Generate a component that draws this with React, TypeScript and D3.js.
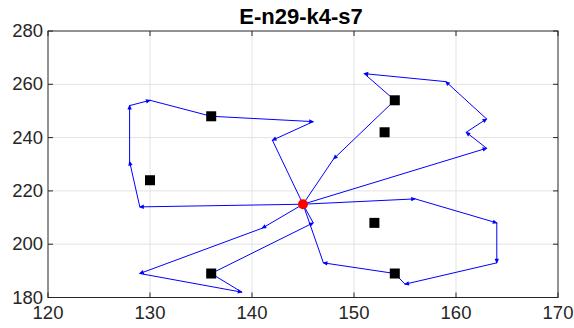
import { useEffect, useRef } from "react";
import * as d3 from "d3";

// depot, satellites and the four routes (customers in visiting order)
const depot: [number, number] = [145, 215];
const satX = [136, 130, 154, 153, 152, 136, 154];
const satY = [248, 224, 254, 242, 208, 189, 189];
const route1: [number, number][] = [[129, 214], [128, 231], [128, 252], [130, 254], [136, 248], [146, 246], [142, 239]];
const route2: [number, number][] = [[163, 236], [161, 242], [163, 247], [159, 261], [151, 264], [154, 254], [148, 232]];
const route3: [number, number][] = [[156, 217], [164, 208], [164, 193], [155, 185], [154, 189], [147, 193]];
const route4: [number, number][] = [[141, 206], [129, 189], [139, 182], [136, 189], [146, 208]];
const routes = [route1, route2, route3, route4];
const xTicks = [120, 130, 140, 150, 160, 170];
const yTicks = [180, 200, 220, 240, 260, 280];

const W = 574;
const H = 328;
const m = { left: 48, right: 16, top: 31, bottom: 30.5 };
const FONT = "'Liberation Sans', Arial, Helvetica, sans-serif";

export default function App() {
  const ref = useRef<SVGSVGElement>(null);

  useEffect(() => {
    const svg = d3.select(ref.current);
    svg.selectAll("*").remove();

    const x = d3.scaleLinear().domain([120, 170]).range([m.left, W - m.right]);
    const y = d3.scaleLinear().domain([180, 280]).range([H - m.bottom, m.top]);
    const [x0, x1] = x.range();
    const [y0, y1] = y.range();

    // grid
    const grid = svg.append("g").attr("stroke", "#e3e3e3").attr("stroke-width", 1);
    xTicks.slice(1, -1).forEach((t) => {
      grid.append("line").attr("x1", x(t)).attr("x2", x(t)).attr("y1", y0).attr("y2", y1);
    });
    yTicks.slice(1, -1).forEach((t) => {
      grid.append("line").attr("x1", x0).attr("x2", x1).attr("y1", y(t)).attr("y2", y(t));
    });

    // routes
    const line = d3.line<[number, number]>().x((d) => x(d[0])).y((d) => y(d[1]));
    const plot = svg.append("g");
    routes.forEach((r) => {
      const pts: [number, number][] = [depot, ...r, depot];
      plot.append("path")
        .attr("d", line(pts))
        .attr("fill", "none")
        .attr("stroke", "#0000ff")
        .attr("stroke-width", 1);
      // small arrow heads at each customer
      for (let i = 1; i < pts.length - 1; i++) {
        const isSat = satX.some((sx, k) => sx === pts[i][0] && satY[k] === pts[i][1]);
        if (isSat) continue;
        const ax = x(pts[i][0]), ay = y(pts[i][1]);
        const px = x(pts[i - 1][0]), py = y(pts[i - 1][1]);
        const ang = (Math.atan2(ay - py, ax - px) * 180) / Math.PI;
        plot.append("path")
          .attr("d", "M1,0 L-4,-2.2 L-4,2.2 Z")
          .attr("fill", "#0000ff")
          .attr("transform", `translate(${ax},${ay}) rotate(${ang})`);
      }
    });

    // satellites
    plot.selectAll(".sat")
      .data(satX.map((v, i) => [v, satY[i]]))
      .join("rect")
      .attr("x", (d) => x(d[0]) - 5)
      .attr("y", (d) => y(d[1]) - 5)
      .attr("width", 10)
      .attr("height", 10)
      .attr("fill", "#000");

    // depot
    plot.append("circle")
      .attr("cx", x(depot[0]))
      .attr("cy", y(depot[1]))
      .attr("r", 5)
      .attr("fill", "#ff0000");

    // box + ticks
    const ax = svg.append("g").attr("stroke", "#262626").attr("stroke-width", 1).attr("fill", "none");
    ax.append("rect").attr("x", x0).attr("y", y1).attr("width", x1 - x0).attr("height", y0 - y1);
    xTicks.forEach((t) => {
      ax.append("line").attr("x1", x(t)).attr("x2", x(t)).attr("y1", y0).attr("y2", y0 - 5);
      ax.append("line").attr("x1", x(t)).attr("x2", x(t)).attr("y1", y1).attr("y2", y1 + 5);
    });
    yTicks.forEach((t) => {
      ax.append("line").attr("x1", x0).attr("x2", x0 + 5).attr("y1", y(t)).attr("y2", y(t));
      ax.append("line").attr("x1", x1).attr("x2", x1 - 5).attr("y1", y(t)).attr("y2", y(t));
    });

    // tick labels
    svg.append("g").selectAll("text")
      .data(xTicks)
      .join("text")
      .attr("x", (d) => x(d))
      .attr("y", y0 + 21.5)
      .attr("text-anchor", "middle")
      .attr("font-family", FONT)
      .attr("font-size", 18.5)
      .attr("fill", "#262626")
      .text((d) => d);
    svg.append("g").selectAll("text")
      .data(yTicks)
      .join("text")
      .attr("x", x0 - 5)
      .attr("y", (d) => y(d) + 6)
      .attr("text-anchor", "end")
      .attr("font-family", FONT)
      .attr("font-size", 18.5)
      .attr("fill", "#262626")
      .text((d) => d);

    // title
    svg.append("text")
      .attr("x", 301)
      .attr("y", 24)
      .attr("text-anchor", "middle")
      .attr("font-family", FONT)
      .attr("font-size", 22)
      .attr("font-weight", "bold")
      .attr("fill", "#000")
      .text("E-n29-k4-s7");
  }, []);

  return (
    <svg
      ref={ref}
      width={W}
      height={H}
      style={{ position: "absolute", left: 0, top: 0, background: "#fff" }}
    />
  );
}
